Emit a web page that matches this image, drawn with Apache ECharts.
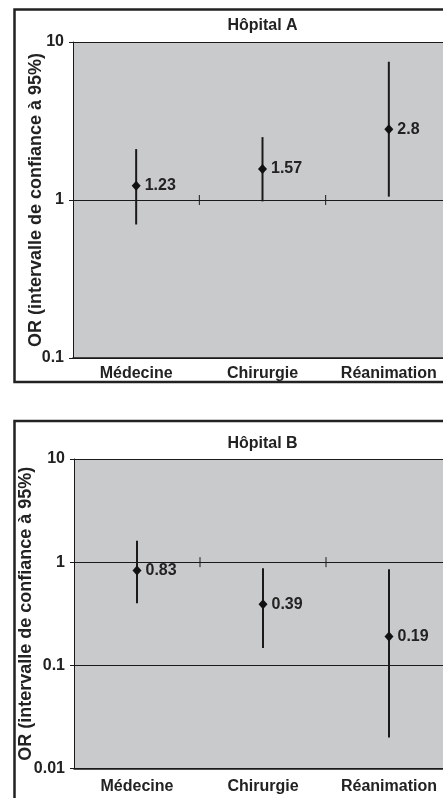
<!DOCTYPE html>
<html>
<head>
<meta charset="utf-8">
<script src="https://cdn.jsdelivr.net/npm/echarts@6/dist/echarts.min.js"></script>
<style>
html,body{margin:0;padding:0;background:#fff;overflow:hidden;width:443px;height:798px;}
#c{width:470px;height:798px;}
</style>
</head>
<body>
<div id="c"></div>
<script>
const categories = ['Médecine', 'Chirurgie', 'Réanimation'];
const panelTitles = ['Hôpital A', 'Hôpital B'];
const orA   = [1.23, 1.57, 2.8];
const lowA  = [0.70, 0.98, 1.05];
const highA = [2.1, 2.5, 7.5];
const orB   = [0.83, 0.39, 0.19];
const lowB  = [0.40, 0.147, 0.020];
const highB = [1.61, 0.875, 0.855];
const yRangeA = [0.1, 10];
const yRangeB = [0.01, 10];
const yAxisName = 'OR (intervalle de confiance à 95%)';

const FONT = '"Liberation Sans", Arial, Helvetica, sans-serif';
const INK = '#1a1a1a';

const chart = echarts.init(document.getElementById('c'), null, {renderer: 'canvas'});

const grids = [
  {left: 73, top: 42, width: 379, height: 316},
  {left: 74, top: 459, width: 378, height: 309.5}
];
const nameGaps = [28, 39];
const xLabelMargins = [8, 10];

function xAxisDef(i) {
  return {
    type: 'category', gridIndex: i, data: categories, position: 'bottom',
    axisLine: {show: true, lineStyle: {color: INK, width: 1.5}},
    axisTick: {show: false},
    axisLabel: {interval: 0, fontFamily: FONT, fontWeight: 'bold', fontSize: 16, color: '#222', margin: xLabelMargins[i]},
    splitLine: {show: false}
  };
}
function yAxisDef(i, range) {
  return {
    type: 'log', logBase: 10, gridIndex: i, min: range[0], max: range[1],
    name: yAxisName, nameLocation: 'middle', nameGap: nameGaps[i], nameRotate: 90, nameMoveOverlap: false,
    nameTextStyle: {fontFamily: FONT, fontWeight: 'bold', fontSize: 18, color: '#222'},
    axisLine: {show: true, lineStyle: {color: INK, width: 1}},
    axisTick: {show: true, length: 4, lineStyle: {color: INK}},
    axisLabel: {fontFamily: FONT, fontWeight: 'bold', fontSize: 16, color: '#222', margin: 9,
      formatter: v => String(+(+v).toPrecision(2))},
    splitLine: {show: true, lineStyle: {color: INK, width: 1}}
  };
}

function errorSeries(i, low, high) {
  return {
    type: 'custom', xAxisIndex: i, yAxisIndex: i, z: 3,
    encode: {x: 0, y: [1, 2]},
    data: categories.map((c, k) => [k, low[k], high[k]]),
    renderItem: function (params, api) {
      const x = api.value(0);
      const p1 = api.coord([x, api.value(1)]);
      const p2 = api.coord([x, api.value(2)]);
      return {type: 'line', shape: {x1: p1[0], y1: p1[1], x2: p2[0], y2: p2[1]},
        style: {stroke: INK, lineWidth: 2}};
    }
  };
}
function boundaryTicks(i) {
  return {
    type: 'custom', xAxisIndex: i, yAxisIndex: i, z: 2, silent: true,
    encode: {x: 0, y: 1},
    data: categories.slice(0, categories.length - 1).map((c, k) => [k, 1]),
    renderItem: function (params, api) {
      const k = api.value(0);
      const a = api.coord([k, 1]);
      const b = api.coord([k + 1, 1]);
      const x = (a[0] + b[0]) / 2;
      return {type: 'line', shape: {x1: x, y1: a[1] - 5, x2: x, y2: a[1] + 5},
        style: {stroke: INK, lineWidth: 1}};
    }
  };
}
function pointSeries(i, or) {
  return {
    type: 'scatter', xAxisIndex: i, yAxisIndex: i, z: 5,
    symbol: 'diamond', symbolSize: [9, 10],
    itemStyle: {color: '#111', opacity: 1},
    data: categories.map((c, k) => [k, or[k]]),
    label: {show: true, position: 'right', distance: 4,
      formatter: p => String(p.value[1]),
      fontFamily: FONT, fontWeight: 'bold', fontSize: 16, color: '#222'},
    emphasis: {disabled: true}
  };
}

const option = {
  backgroundColor: '#ffffff',
  animation: false,
  title: [
    {text: panelTitles[0], left: 262.5, top: 18, textAlign: 'center', padding: 0,
      textStyle: {fontFamily: FONT, fontWeight: 'bold', fontSize: 16, color: '#222'}},
    {text: panelTitles[1], left: 262.5, top: 436, textAlign: 'center', padding: 0,
      textStyle: {fontFamily: FONT, fontWeight: 'bold', fontSize: 16, color: '#222'}}
  ],
  grid: grids.map(g => Object.assign({show: true, backgroundColor: '#c9cacc', borderWidth: 0, containLabel: false}, g)),
  xAxis: [xAxisDef(0), xAxisDef(1)],
  yAxis: [yAxisDef(0, yRangeA), yAxisDef(1, yRangeB)],
  graphic: [
    {type: 'rect', z: 100, silent: true, shape: {x: 14.5, y: 9.5, width: 500, height: 372.5},
      style: {fill: 'none', stroke: '#222', lineWidth: 2.5}},
    {type: 'rect', z: 100, silent: true, shape: {x: 14.5, y: 421, width: 500, height: 500},
      style: {fill: 'none', stroke: '#222', lineWidth: 2.5}}
  ],
  series: [
    boundaryTicks(0), errorSeries(0, lowA, highA), pointSeries(0, orA),
    boundaryTicks(1), errorSeries(1, lowB, highB), pointSeries(1, orB)
  ]
};
chart.setOption(option);
</script>
</body>
</html>
